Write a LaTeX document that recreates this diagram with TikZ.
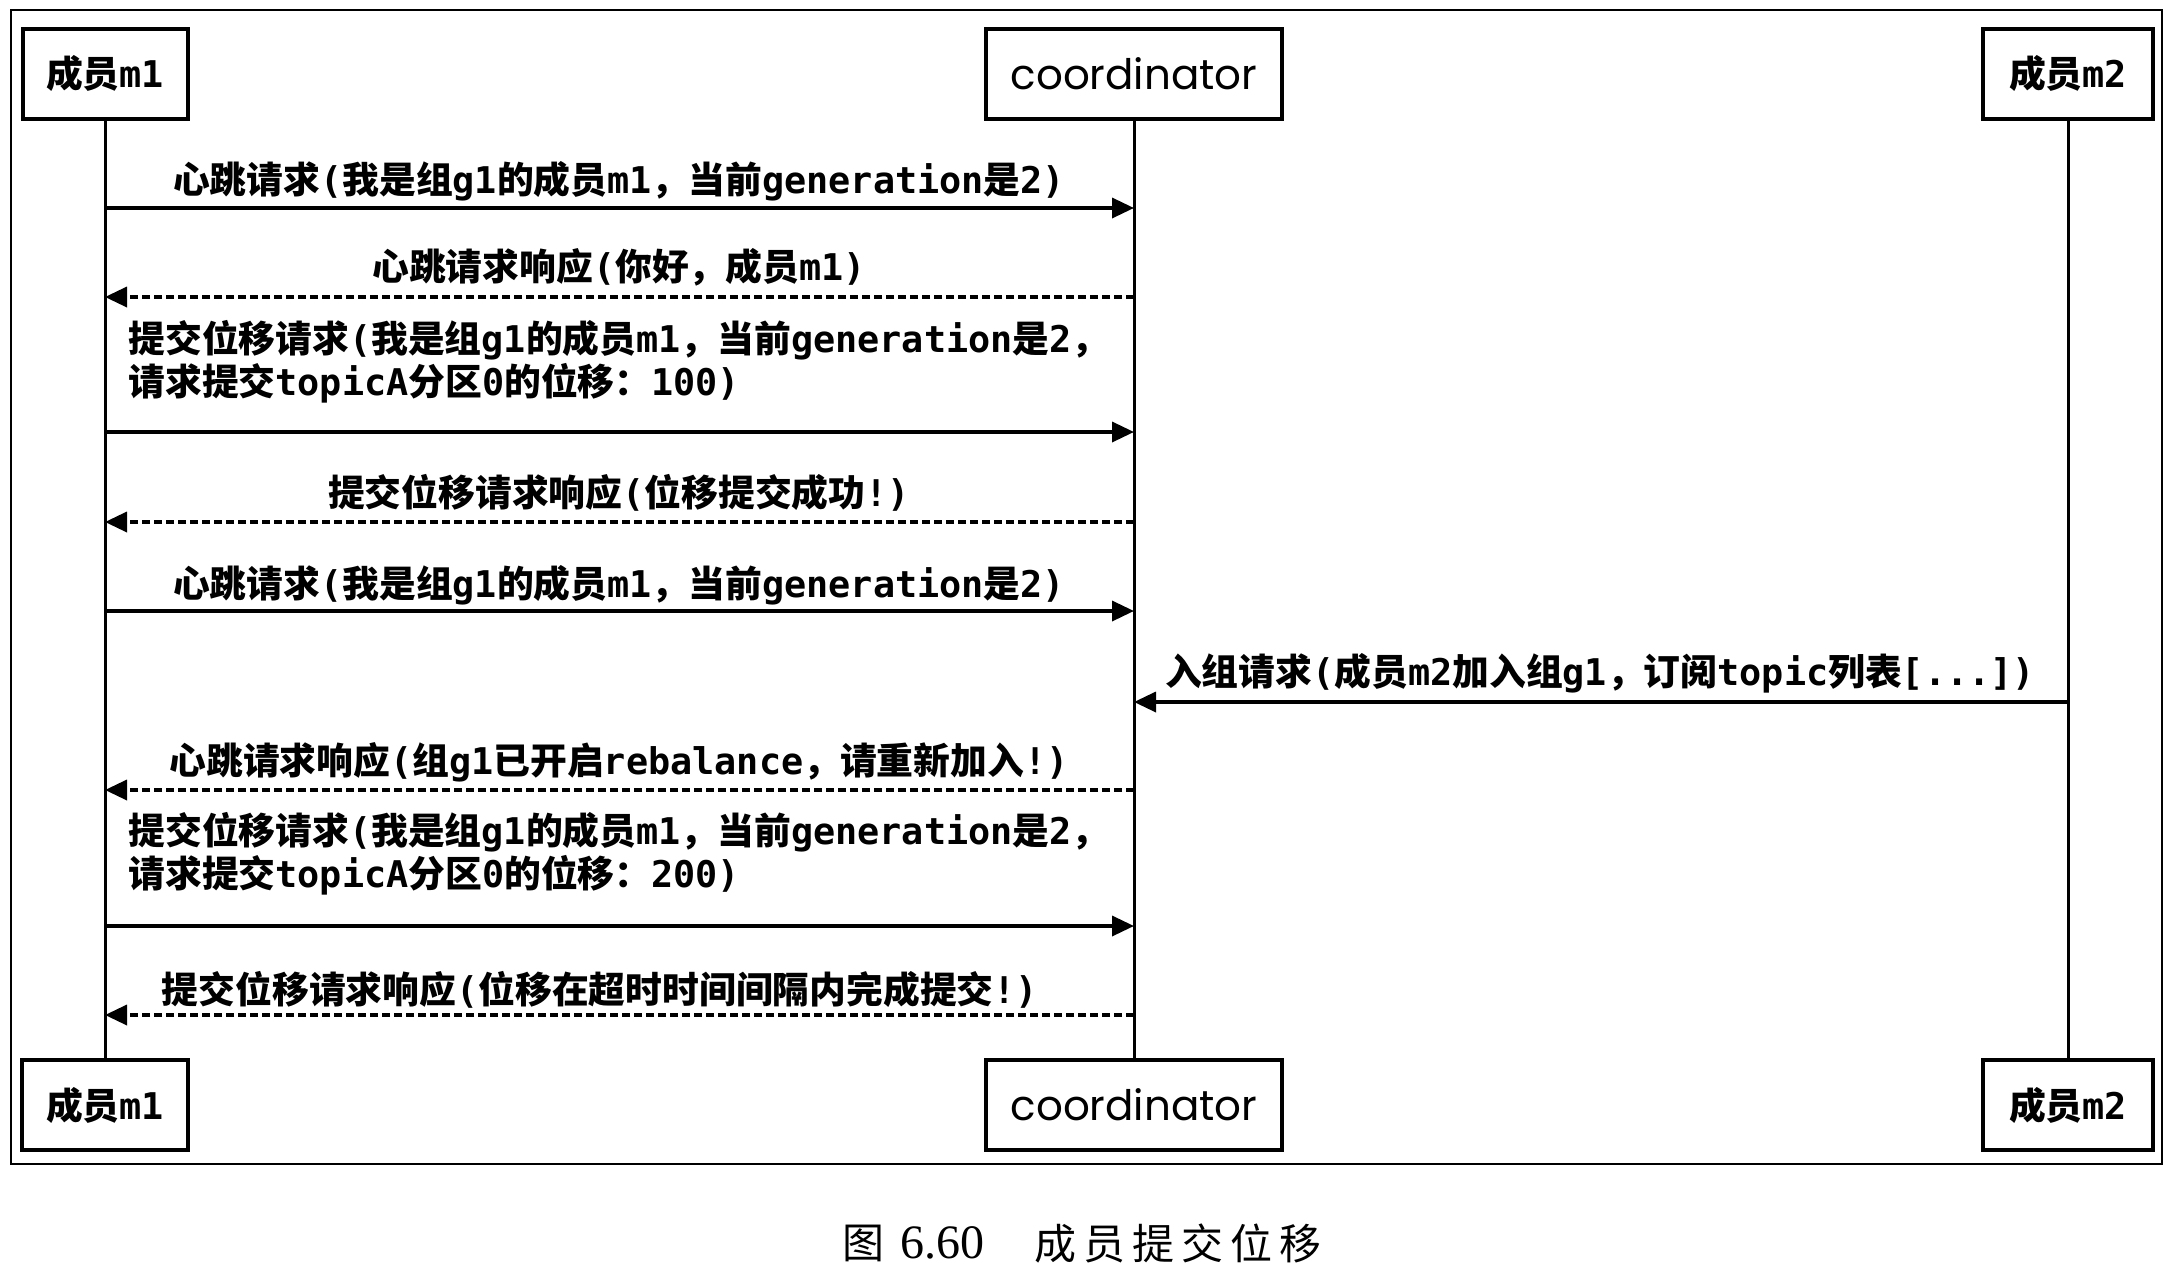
\documentclass[tikz,border=0pt]{standalone}
\usepackage{fontspec}
\newfontfamily\cjk{Noto Sans CJK SC}
\newfontfamily\mono{DejaVu Sans Mono}
\newfontfamily\pop{Poppins}
\newfontfamily\serifnum{Liberation Serif}
\usetikzlibrary{arrows.meta}
\newcommand\lat[1]{{\mono #1}}
\tikzset{
  lifebox/.style={draw, line width=2pt, minimum height=45pt, inner sep=0pt,
    font=\cjk\bfseries\fontsize{18.4}{22}\selectfont},
  cobox/.style={lifebox, font=\pop\fontsize{21}{25}\selectfont},
  lifeline/.style={line width=1.5pt},
  msgtext/.style={inner sep=0pt, font=\cjk\bfseries\fontsize{18.4}{21.5}\selectfont},
  callarrow/.style={line width=1.75pt, -{Triangle[length=11pt,width=10pt]}},
  replyarrow/.style={line width=1.75pt, dash pattern=on 4pt off 2pt, -{Triangle[length=11pt,width=10pt]}},
  captext/.style={inner sep=0pt, font=\cjk\fontsize{21}{25}\selectfont},
}
\begin{document}
\begin{tikzpicture}[x=0.5pt,y=-0.5pt]
\useasboundingbox (0,0) rectangle (2176,1274);
\fill[white] (0,0) rectangle (2176,1274);
% outer frame
\draw[line width=1.25pt] (11,10) rectangle (2162,1164);
% participant boxes
\node[lifebox, minimum width=82.5pt] (m1top) at (105,73.5) {成员\lat{m1}};
\node[cobox, minimum width=148pt] (cotop) at (1134,73.5) {coordinator};
\node[lifebox, minimum width=85pt] (m2top) at (2068,73.5) {成员\lat{m2}};
\node[lifebox, minimum width=83pt] (m1bot) at (105,1105) {成员\lat{m1}};
\node[cobox, minimum width=148pt] (cobot) at (1134,1105) {coordinator};
\node[lifebox, minimum width=85pt] (m2bot) at (2068,1105) {成员\lat{m2}};
% lifelines
\draw[lifeline] (m1top) -- (m1bot);
\draw[lifeline] (cotop) -- (cobot);
\draw[lifeline] (m2top) -- (m2bot);
% message end points
\foreach \i/\y in {1/208,2/297,3/432,4/522,5/611,6/702,7/790,8/926,9/1015}{
  \coordinate (a\i) at (105,\y);
  \coordinate (b\i) at (1134,\y);
  \coordinate (c\i) at (2068,\y);
}
% messages
\node[msgtext] (t1) at (619,181) {心跳请求\lat{(}我是组\lat{g1}的成员\lat{m1}，当前\lat{generation}是\lat{2)}};
\draw[callarrow] (a1) -- (b1);
\node[msgtext] (t2) at (619,267) {心跳请求响应\lat{(}你好，成员\lat{m1)}};
\draw[replyarrow] (b2) -- (a2);
\node[msgtext, align=left, anchor=west] (t3) at (128,361.5) {提交位移请求\lat{(}我是组\lat{g1}的成员\lat{m1}，当前\lat{generation}是\lat{2}，\\请求提交\lat{topicA}分区\lat{0}的位移：\lat{100)}};
\draw[callarrow] (a3) -- (b3);
\node[msgtext] (t4) at (619,493) {提交位移请求响应\lat{(}位移提交成功\lat{!)}};
\draw[replyarrow] (b4) -- (a4);
\node[msgtext] (t5) at (619,585) {心跳请求\lat{(}我是组\lat{g1}的成员\lat{m1}，当前\lat{generation}是\lat{2)}};
\draw[callarrow] (a5) -- (b5);
\node[msgtext] (t6) at (1600,673) {入组请求\lat{(}成员\lat{m2}加入组\lat{g1}，订阅\lat{topic}列表\lat{[...])}};
\draw[callarrow] (c6) -- (b6);
\node[msgtext] (t7) at (619,762) {心跳请求响应\lat{(}组\lat{g1}已开启\lat{rebalance}，请重新加入\lat{!)}};
\draw[replyarrow] (b7) -- (a7);
\node[msgtext, align=left, anchor=west] (t8) at (128,854) {提交位移请求\lat{(}我是组\lat{g1}的成员\lat{m1}，当前\lat{generation}是\lat{2}，\\请求提交\lat{topicA}分区\lat{0}的位移：\lat{200)}};
\draw[callarrow] (a8) -- (b8);
\node[msgtext] (t9) at (600,990) {提交位移请求响应\lat{(}位移在超时时间间隔内完成提交\lat{!)}};
\draw[replyarrow] (b9) -- (a9);
% caption
\node[captext] (cap1) at (863,1243) {图};
\node[inner sep=0pt, font=\serifnum\fontsize{24}{28}\selectfont] (cap2) at (942,1243) {6.60};
\node[captext] (cap3) at (1178,1243) {成\kern3.5pt 员\kern3.5pt 提\kern3.5pt 交\kern3.5pt 位\kern3.5pt 移};
\end{tikzpicture}
\end{document}
